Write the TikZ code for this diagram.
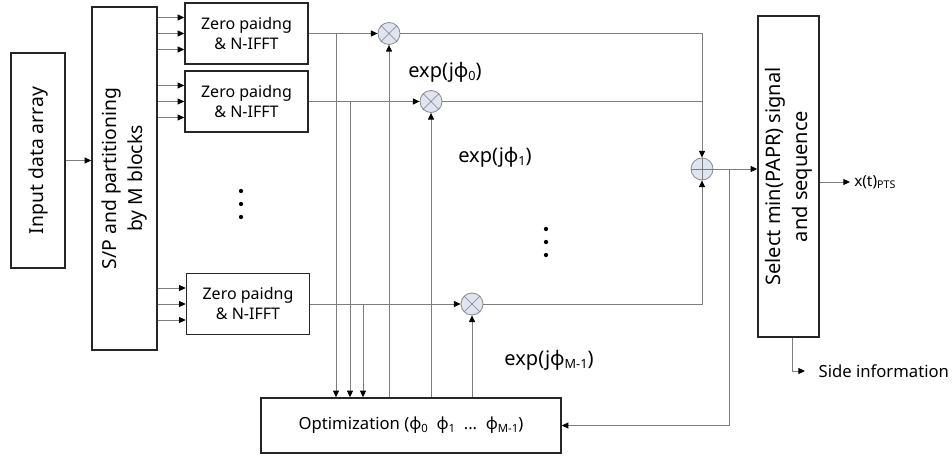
\documentclass[tikz,border=0pt]{standalone}
\usepackage{fontspec}
\setmainfont{Noto Sans}
\usetikzlibrary{arrows.meta}
\definecolor{Dgray}{RGB}{125,125,125}
\definecolor{Dfill}{RGB}{222,228,240}
\newcommand{\lowidx}[2][8]{\raisebox{-0.3ex}{\fontsize{#1}{#1}\selectfont #2}}
\tikzset{%
    Dbox/.style={draw=black!85, line width=1.1pt, inner sep=2pt, align=center},
    Dzbox/.style={Dbox, minimum width=92.25pt, minimum height=45.75pt, font=\fontsize{12}{15}\selectfont},
    Dbig/.style={Dbox, rotate=90, font=\fontsize{14.5}{19}\selectfont},
    Dline/.style={draw=Dgray, line width=0.7pt},
    Darrow/.style={Dline, -{Triangle[length=5pt,width=4.5pt,color=black]}},
    Dmult/.style={circle, draw=Dgray!90, fill=Dfill, minimum size=16.5pt, inner sep=0pt, line width=0.6pt},
    Dlabel/.style={font=\fontsize{15}{17}\selectfont, inner sep=1pt}
}
\begin{document}
\begin{tikzpicture}[x=0.75pt,y=-0.75pt]
    \useasboundingbox (0,0) rectangle (952,459);
    \node[Dbig, minimum width=161.25pt, minimum height=40.5pt] (Ninput) at (38,160.5) {Input data array};
    \node[Dbig, minimum width=257.25pt, minimum height=48.75pt] (Nsp) at (124.5,178.5) {S/P and partitioning\\by M blocks};
    \node[Dbig, minimum width=240.75pt, minimum height=45.75pt, font=\fontsize{15}{20.5}\selectfont] (Nsel) at (788.5,176.5) {Select min(PAPR) signal\\and sequence};
    \node[Dbox, minimum width=225pt, minimum height=41.25pt, font=\fontsize{12.5}{14}\selectfont] (Nopt) at (411,425.5)
        {Optimization (ϕ\lowidx[8.5]{0}\ \ ϕ\lowidx[8.5]{1}\ \ ...\ \ ϕ\lowidx[8.5]{M-1})};
    \foreach \n/\x/\y in {0/246.5/33.5, 1/246.5/101.5, 2/248/304}
        \node[Dzbox] (Nzp\n) at (\x,\y) {Zero paidng\\\& N-IFFT};
    \foreach \n/\x/\y in {0/389/33.5, 1/431/101.5, 2/472/304} {
        \node[Dmult] (Nm\n) at (\x,\y) {};
        \draw[Dgray, line width=0.5pt] (Nm\n.north west) -- (Nm\n.south east) (Nm\n.north east) -- (Nm\n.south west);
    }
    \node[Dmult] (Nadd) at (702,169) {};
    \draw[Dgray, line width=0.5pt] (Nadd.north) -- (Nadd.south) (Nadd.west) -- (Nadd.east);
    \path
        (336,33.5) coordinate (Nb0)
        (350,101.5) coordinate (Nb1)
        (363,304) coordinate (Nb2)
        (729,169) coordinate (Nfb);
    \node[Dlabel] (Nl0) at (445,72) {exp(jϕ\lowidx[9.5]{0})};
    \node[Dlabel] (Nl1) at (495,157) {exp(jϕ\lowidx[9.5]{1})};
    \node[Dlabel] (Nl2) at (549,360) {exp(jϕ\lowidx[9.5]{M-1})};
    \node[anchor=west, inner xsep=3pt, font=\fontsize{11.5}{13}\selectfont] (Nxt) at (850,182) {x(t)\lowidx{PTS}};
    \node[anchor=west, inner xsep=10pt, font=\fontsize{12.5}{14}\selectfont] (Nside) at (805,371) {Side information};
    \foreach \y in {191,204,217}
        \fill (241,\y) circle (1.6pt);
    \foreach \y in {229,242,255}
        \fill (546,\y) circle (1.6pt);
    \draw[Darrow] (Ninput.south) -- (Ninput.south -| Nsp.north);
    \foreach \n in {0,1,2}
        \foreach \o in {-12pt,0pt,12pt}
            \draw[Darrow] ([yshift=\o]Nzp\n.west -| Nsp.south) -- ([yshift=\o]Nzp\n.west);
    \foreach \n in {0,1,2} {
        \draw[Darrow] (Nzp\n.east) -- (Nm\n.west);
        \draw[Darrow] (Nb\n) -- (Nb\n |- Nopt.north);
        \draw[Darrow] (Nm\n |- Nopt.north) -- (Nm\n.south);
    }
    \draw[Darrow] (Nm0.east) -| (Nadd.north);
    \draw[Dline] (Nm1.east) -- (Nm1 -| Nadd);
    \draw[Darrow] (Nm2.east) -| (Nadd.south);
    \draw[Darrow] (Nadd.east) -- (Nadd -| Nsel.north);
    \draw[Darrow] (Nfb) |- (Nopt.east);
    \draw[Darrow] (Nxt.west -| Nsel.south) -- (Nxt.west);
    \draw[Darrow] ([xshift=2.6pt]Nsel.west) |- (Nside.west);
\end{tikzpicture}
\end{document}
